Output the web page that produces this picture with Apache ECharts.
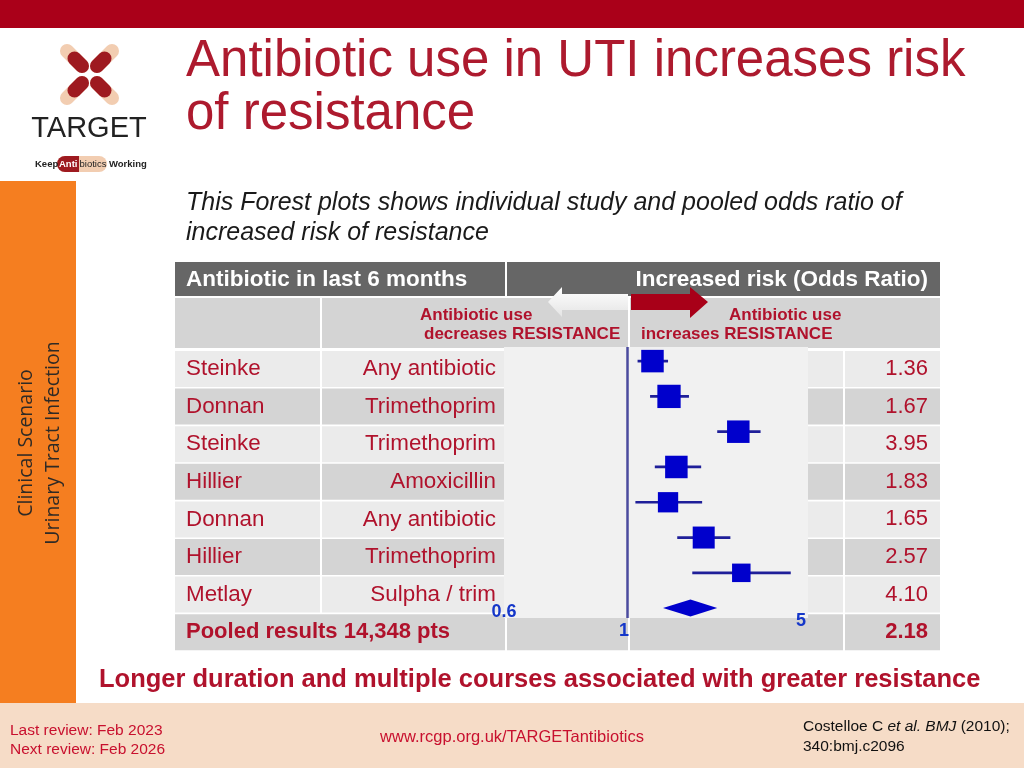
<!DOCTYPE html>
<html><head><meta charset="utf-8">
<script src="https://cdn.jsdelivr.net/npm/echarts@6/dist/echarts.min.js"></script>
<style>html,body{margin:0;padding:0;background:#fff}#c{width:1024px;height:768px}</style>
</head><body><div id="c"></div>
<script>
// ---- data ----
const studies = ['Steinke', 'Donnan', 'Steinke', 'Hillier', 'Donnan', 'Hillier', 'Metlay'];
const antibiotics = ['Any antibiotic', 'Trimethoprim', 'Trimethoprim', 'Amoxicillin', 'Any antibiotic', 'Trimethoprim', 'Sulpha / trim'];
const oddsRatio = [1.36, 1.67, 3.95, 1.83, 1.65, 2.57, 4.10];
const ciLow = [1.13, 1.32, 3.04, 1.40, 1.10, 1.85, 2.23];
const ciHigh = [1.65, 2.14, 5.21, 2.49, 2.52, 3.58, 7.58];
const studyWeight = [22.5, 23.3, 22.5, 22.5, 20.3, 22, 18.5];
const pooledLabel = 'Pooled results 14,348 pts';
const pooledOR = [2.18];
const pooledLow = [1.55];
const pooledHigh = [3.04];
const tickLabels = ['0.6', '1', '5'];

// ---- layout helpers ----
const SANS = '"Liberation Sans", Arial, Helvetica, sans-serif';
const RED = '#b0122c';
const g = [];
function rect(x, y, w, h, fill, z, r) {
  g.push({ type: 'rect', z: z == null ? -5 : z, silent: true, shape: { x: x, y: y, width: w, height: h, r: r || 0 }, style: { fill: fill } });
}
function text(x, y, t, font, fill, align, z) {
  g.push({ type: 'text', z: z == null ? 7 : z, silent: true, x: x, y: y,
    style: { text: t, font: font, fill: fill, textAlign: align || 'left', textVerticalAlign: 'middle' } });
}
function line(x1, y1, x2, y2, stroke, w, z) {
  g.push({ type: 'line', z: z == null ? 1 : z, silent: true, shape: { x1: x1, y1: y1, x2: x2, y2: y2 },
    style: { stroke: stroke, lineWidth: w, lineCap: 'round' } });
}

// slide chrome
rect(0, 0, 1024, 28, '#aa0019');
rect(0, 181, 76, 522, '#f57e20');
rect(0, 703, 1024, 65, '#f6dcc7');

// logo capsules
const CREAM = '#f2cdb1', PILLRED = '#9e1a20';
[[67, 51, 82, 66], [112, 51, 97, 66], [67, 98, 82, 83], [112, 98, 97, 83]].forEach(function (c) {
  line(c[0], c[1], c[2], c[3], CREAM, 14, 1);
  const mx = c[0] + (c[2] - c[0]) * 0.5, my = c[1] + (c[3] - c[1]) * 0.5;
  line(mx, my, c[2], c[3], PILLRED, 14, 2);
});
text(89, 129, 'TARGET', '29px ' + SANS, '#222', 'center', 3);
text(35, 164, 'Keep', 'bold 9.5px ' + SANS, '#222', 'left', 3);
rect(57, 156, 50, 16, CREAM, 1, 8);
rect(57, 156, 22, 16, PILLRED, 2, [8, 0, 0, 8]);
text(59, 164.5, 'Anti', 'bold 9.5px ' + SANS, '#fff', 'left', 3);
text(79.5, 164.5, 'biotics', '9.5px ' + SANS, '#222', 'left', 3);
text(109, 164.5, 'Working', 'bold 9.5px ' + SANS, '#222', 'left', 3);

// vertical side text
g.push({ type: 'text', z: 3, silent: true, x: 26, y: 443, rotation: Math.PI / 2,
  style: { text: 'Clinical Scenario', font: '19.5px "Open Sans", sans-serif', fill: '#2e2a26', textAlign: 'center', textVerticalAlign: 'middle' } });
g.push({ type: 'text', z: 3, silent: true, x: 53, y: 443, rotation: Math.PI / 2,
  style: { text: 'Urinary Tract Infection', font: '19.5px "Open Sans", sans-serif', fill: '#2e2a26', textAlign: 'center', textVerticalAlign: 'middle' } });

// title & subtitle
text(186, 62, 'Antibiotic use in UTI increases risk', '51px ' + SANS, '#ad1a2e', 'left', 3);
text(186, 115, 'of resistance', '51px ' + SANS, '#ad1a2e', 'left', 3);
text(186, 203, 'This Forest plots shows individual study and pooled odds ratio of', 'italic 25px ' + SANS, '#1a1a1a', 'left', 3);
text(186, 233, 'increased risk of resistance', 'italic 25px ' + SANS, '#1a1a1a', 'left', 3);

// table header
const HDR = '#666666', LIGHT = '#ebebeb', DARK = '#d4d4d4';
rect(175, 262, 330, 34, HDR);
rect(507, 262, 433, 34, HDR);
text(186, 280, 'Antibiotic in last 6 months', 'bold 22.5px ' + SANS, '#fff', 'left');
text(928, 280, 'Increased risk (Odds Ratio)', 'bold 22.5px ' + SANS, '#fff', 'right');
rect(175, 298, 145, 50, DARK);
rect(322, 298, 306, 50, DARK);
rect(630, 298, 310, 50, DARK);

// arrows
g.push({ type: 'polygon', z: 6, silent: true,
  shape: { points: [[548, 302], [562, 287], [562, 294], [628, 294], [628, 310], [562, 310], [562, 317]] },
  style: { fill: new echarts.graphic.LinearGradient(0, 0, 0, 1, [{ offset: 0, color: '#ffffff' }, { offset: 1, color: '#e4e4e4' }]) } });
g.push({ type: 'polygon', z: 6, silent: true,
  shape: { points: [[631, 294], [690, 294], [690, 287], [708, 302], [690, 318], [690, 310], [631, 310]] },
  style: { fill: '#a80018' } });

text(420, 315, 'Antibiotic use', 'bold 17px ' + SANS, RED, 'left');
text(424, 334, 'decreases RESISTANCE', 'bold 17px ' + SANS, RED, 'left');
text(729, 315, 'Antibiotic use', 'bold 17px ' + SANS, RED, 'left');
text(641, 334, 'increases RESISTANCE', 'bold 17px ' + SANS, RED, 'left');

// table body
const rowTop = 351, rowPitch = 37.6, rowH = 36;
studies.forEach(function (s, i) {
  const y = rowTop + i * rowPitch, fill = i % 2 === 0 ? LIGHT : DARK, cy = y + rowH / 2;
  rect(175, y, 145, rowH, fill);
  rect(322, y, 183, rowH, fill);
  rect(507, y, 336, rowH, fill);
  rect(845, y, 95, rowH, fill);
  text(186, cy, s, '22.4px ' + SANS, RED, 'left');
  text(496, cy, antibiotics[i], '22.4px ' + SANS, RED, 'right');
  text(928, cy, oddsRatio[i].toFixed(2), '22px ' + SANS, RED, 'right');
});
(function () {
  const y = rowTop + 7 * rowPitch, cy = y + rowH / 2;
  rect(175, y, 330, rowH, DARK);
  rect(507, y, 121, rowH, DARK);
  rect(630, y, 213, rowH, DARK);
  rect(845, y, 95, rowH, DARK);
  text(186, cy, pooledLabel, 'bold 22px ' + SANS, RED, 'left');
  text(928, cy, pooledOR[0].toFixed(2), 'bold 22px ' + SANS, RED, 'right');
})();

// plot tick labels (as placed in the original image)
const BLUE = '#1537c9';
text(504, 612, tickLabels[0], 'bold 18px ' + SANS, BLUE, 'center', 20);
text(624, 631, tickLabels[1], 'bold 18px ' + SANS, BLUE, 'center', 20);
text(801, 621, tickLabels[2], 'bold 18px ' + SANS, BLUE, 'center', 20);

// footer text
text(99, 680, 'Longer duration and multiple courses associated with greater resistance', 'bold 25.5px ' + SANS, RED, 'left', 3);
text(10, 731, 'Last review: Feb 2023', '15.5px ' + SANS, '#c8102e', 'left', 3);
text(10, 750, 'Next review: Feb 2026', '15.5px ' + SANS, '#c8102e', 'left', 3);
text(512, 737, 'www.rcgp.org.uk/TARGETantibiotics', '16.5px ' + SANS, '#c8102e', 'center', 3);
g.push({ type: 'text', z: 3, silent: true, x: 803, y: 727,
  style: { text: '{n|Costelloe C }{i|et al. BMJ}{n| (2010);}', textVerticalAlign: 'middle',
    rich: { n: { font: '15.5px ' + SANS, fill: '#111' }, i: { font: 'italic 15.5px ' + SANS, fill: '#111' } } } });
text(803, 747, '340:bmj.c2096', '15.5px ' + SANS, '#111', 'left', 3);

// ---- chart ----
const chart = echarts.init(document.getElementById('c'));
chart.setOption({
  animation: false,
  backgroundColor: '#ffffff',
  graphic: { elements: g },
  grid: { left: 504, top: 347, width: 304, height: 271, show: true, backgroundColor: '#f1f1f1', borderWidth: 0 },
  xAxis: { type: 'log', min: 0.215, max: 9.39, axisLine: { show: false }, axisTick: { show: false },
    axisLabel: { show: false }, splitLine: { show: false } },
  yAxis: { type: 'value', inverse: true, min: -0.4, max: 7.28, show: false },
  series: [
    {
      type: 'custom', name: 'studies',
      data: studies.map(function (s, i) { return [oddsRatio[i], i, ciLow[i], ciHigh[i], studyWeight[i]]; }),
      encode: { x: [0, 2, 3], y: 1 },
      renderItem: function (params, api) {
        const y = api.value(1);
        const c = api.coord([api.value(0), y]);
        const lo = api.coord([api.value(2), y]);
        const hi = api.coord([api.value(3), y]);
        const w = api.value(4);
        return { type: 'group', children: [
          { type: 'line', shape: { x1: lo[0], y1: lo[1], x2: hi[0], y2: hi[1] }, style: { stroke: '#1f1f99', lineWidth: 2.7 } },
          { type: 'rect', shape: { x: c[0] - w / 2, y: c[1] - w / 2, width: w, height: w }, style: { fill: '#0000cc' } }
        ] };
      },
      markLine: { silent: true, symbol: 'none', animation: false, label: { show: false },
        lineStyle: { color: '#4b4b9e', width: 2.5, type: 'solid' }, data: [{ xAxis: 1 }] }
    },
    {
      type: 'custom', name: 'pooled',
      data: pooledOR.map(function (v, i) { return [v, 7, pooledLow[i], pooledHigh[i]]; }),
      encode: { x: [0, 2, 3], y: 1 },
      renderItem: function (params, api) {
        const y = api.value(1);
        const c = api.coord([api.value(0), y]);
        const lo = api.coord([api.value(2), y]);
        const hi = api.coord([api.value(3), y]);
        return { type: 'polygon', shape: { points: [lo, [c[0], c[1] - 8.5], hi, [c[0], c[1] + 8.5]] }, style: { fill: '#0000cc' } };
      }
    }
  ]
});
</script></body></html>
